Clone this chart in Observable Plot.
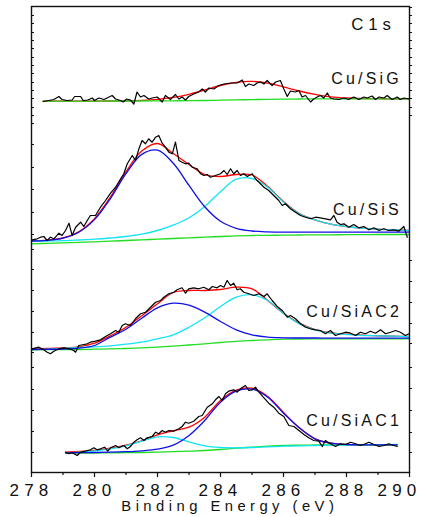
<!DOCTYPE html>
<html>
<head>
<meta charset="utf-8">
<script src="https://cdn.jsdelivr.net/npm/d3@7"></script>
<script src="https://cdn.jsdelivr.net/npm/@observablehq/plot@0.6"></script>
<style>
  html, body { margin: 0; padding: 0; background: #fff; }
  #chart svg { display: block; }
</style>
</head>
<body>
<div id="chart"></div>
<script>
// C 1s XPS spectra of four Cu/Si samples, stacked with vertical offsets.
// Intensities are in arbitrary units (already offset per spectrum).

const energyTicks = [278, 280, 282, 284, 286, 288, 290];
const energyMinorTicks = [279, 281, 283, 285, 287, 289];
const leftTicks = [457, 449, 440, 432, 424, 415, 407, 399, 390, 382, 374, 365, 357, 349,
  328, 305, 283, 260, 238, 223, 203, 182, 161, 140, 120, 105, 83, 62, 41, 20];
const rightTicks = [465, 457, 449, 440, 432, 424, 415, 407, 399, 390, 382, 374, 365, 357,
  212, 191, 170, 149, 129, 105, 84, 62, 40, 20];

const seriesNames = ["Cu/SiG", "Cu/SiS", "Cu/SiAC2", "Cu/SiAC1"];
const seriesLabelLevel = [389, 258, 156, 47];
const coreLevel = "C1s";
const coreLevelLevel = 443;
const xTitle = "Binding Energy (eV)";

// measured counts [binding energy, intensity]
const sigRaw = [[278.37,371],[278.55,372],[278.71,373],[278.87,376],[278.97,373],[279.13,372],[279.29,372.5],[279.37,376],[279.56,376],[279.64,372],[279.79,372.5],[279.93,374.5],[280.00,372],[280.14,374.5],[280.30,373],[280.40,374.5],[280.56,377],[280.67,373.5],[280.83,372],[280.91,370.5],[281.02,373.5],[281.14,372.5],[281.25,368.5],[281.35,380.5],[281.46,375.5],[281.57,377],[281.72,373.5],[281.83,374.5],[281.99,375.5],[282.15,370.5],[282.25,377],[282.41,373],[282.57,378],[282.68,373.5],[282.78,375.5],[282.89,372.5],[282.99,376],[283.15,378.5],[283.31,380.5],[283.42,383.5],[283.52,380.5],[283.63,384.5],[283.79,383.5],[283.95,387],[284.11,388.5],[284.32,389.5],[284.53,389.5],[284.69,392.5],[284.79,386],[284.90,388.5],[285.06,387],[285.16,389.5],[285.27,390.5],[285.38,388.5],[285.48,392],[285.64,387],[285.75,390.5],[285.90,392],[286.01,383.5],[286.12,376],[286.22,381.5],[286.38,380.5],[286.49,382],[286.59,375.5],[286.70,377],[286.86,370.5],[286.96,373.5],[287.07,375.5],[287.17,377],[287.28,374.5],[287.39,379.5],[287.49,374.5],[287.60,373.5],[287.76,373],[287.92,374.5],[288.07,373],[288.23,375.5],[288.39,373],[288.55,375.5],[288.66,374.5],[288.81,376.5],[288.92,373],[289.03,375.5],[289.19,374.5],[289.29,377],[289.45,373],[289.61,375.5],[289.71,373],[289.82,374.5],[290.00,373.5]];

const sisRaw = [[278.02,232.7],[278.18,233.7],[278.29,235.3],[278.39,236],[278.50,232],[278.60,235.3],[278.71,233.7],[278.87,239.3],[278.97,237],[279.08,242],[279.19,249.3],[279.29,237],[279.40,245.3],[279.56,250.3],[279.66,246],[279.77,252],[279.87,257],[280.03,257],[280.19,265.3],[280.35,272],[280.51,279.3],[280.67,285.3],[280.83,293.7],[280.93,298.7],[281.04,308.7],[281.20,317],[281.30,312],[281.41,323.7],[281.51,332],[281.62,328.7],[281.72,333.7],[281.83,330.3],[281.94,335.3],[282.04,337],[282.15,329.3],[282.25,325.3],[282.36,320.3],[282.47,318.7],[282.57,330.3],[282.68,312],[282.78,310.3],[282.89,308.7],[282.99,309.3],[283.10,305.3],[283.26,303.7],[283.37,298.7],[283.47,297],[283.58,298],[283.68,295.3],[283.84,297],[284.00,298.7],[284.11,302],[284.21,298],[284.32,303.7],[284.42,298.7],[284.53,302],[284.63,297],[284.74,298.7],[284.85,296],[285.01,298.7],[285.11,293.7],[285.22,290.3],[285.38,285.3],[285.53,282],[285.69,277],[285.85,272],[285.96,267],[286.06,268.7],[286.22,263.7],[286.38,260.3],[286.54,257],[286.70,255.3],[286.86,253.7],[287.02,255.3],[287.17,254.7],[287.33,253.7],[287.49,252.7],[287.60,257],[287.70,250.3],[287.81,248],[287.92,248.7],[288.07,245.3],[288.23,248],[288.39,244.7],[288.55,246],[288.71,242.7],[288.87,244.7],[289.03,242],[289.19,243.7],[289.34,242],[289.50,242.7],[289.66,241.3],[289.82,246],[289.93,235.3]];

const ac2Raw = [[278.02,123.7],[278.23,125.3],[278.34,123.7],[278.50,120.3],[278.60,118.7],[278.71,121.3],[278.87,123.7],[279.03,124.7],[279.19,123.7],[279.34,122],[279.40,120.3],[279.50,127],[279.66,128],[279.77,128.7],[279.87,130.3],[280.03,131.3],[280.19,132.7],[280.35,136],[280.51,138.7],[280.67,142],[280.77,140.3],[280.88,147],[280.98,148.7],[281.14,147],[281.30,153.7],[281.46,158.7],[281.62,160.3],[281.78,165.3],[281.94,170.3],[282.10,172],[282.20,175.3],[282.36,178.7],[282.52,180.3],[282.62,182.7],[282.78,184.7],[282.89,179.3],[282.99,183.7],[283.15,184.7],[283.31,183.7],[283.47,185.3],[283.63,182.7],[283.74,186],[283.89,184.7],[284.00,187],[284.11,185.3],[284.21,192],[284.32,187],[284.42,189.3],[284.53,182.7],[284.63,183.7],[284.74,180.3],[284.90,178.7],[285.06,177],[285.22,178.7],[285.38,176],[285.48,178.7],[285.64,172],[285.80,166],[285.96,162],[286.12,155.3],[286.22,157],[286.38,153.7],[286.54,148.7],[286.70,145.3],[286.86,143.7],[287.02,142.7],[287.17,142],[287.33,138.7],[287.49,142],[287.65,137],[287.81,138.7],[287.97,140.3],[288.13,139.3],[288.29,137],[288.44,140.3],[288.60,138.7],[288.76,141.3],[288.92,139.3],[289.08,142.7],[289.24,138.7],[289.40,140.3],[289.56,142],[289.71,140.3],[289.87,137],[289.98,138.7]];

const ac1Raw = [[279.08,20.3],[279.19,18.7],[279.29,19.7],[279.45,17],[279.56,20.3],[279.71,21.3],[279.87,22.7],[279.98,24.7],[280.08,22.7],[280.19,23.7],[280.32,25.3],[280.42,21.3],[280.51,24.7],[280.67,27],[280.77,24.7],[280.93,27],[281.04,23.7],[281.14,26],[281.25,30.3],[281.35,32.7],[281.46,34.7],[281.57,32],[281.67,34.7],[281.83,36],[281.94,40.3],[282.04,38.7],[282.15,42],[282.25,40.3],[282.36,42],[282.52,41.3],[282.68,43.7],[282.78,46],[282.89,50.3],[282.99,49.3],[283.15,51.3],[283.31,56],[283.42,57],[283.58,65.3],[283.74,68.7],[283.84,72.7],[283.95,76],[284.05,72],[284.16,78.7],[284.26,81.3],[284.42,82.7],[284.53,80.3],[284.63,83.7],[284.79,87],[284.90,82],[285.01,82.7],[285.11,85.3],[285.22,80.3],[285.38,74.7],[285.53,69.3],[285.69,65.3],[285.85,59.3],[286.01,56],[286.17,47],[286.33,46],[286.49,42],[286.65,38],[286.80,34.7],[286.96,32],[287.12,31.3],[287.23,26],[287.33,32],[287.49,28.7],[287.65,26],[287.81,28.7],[287.97,28],[288.13,30.3],[288.29,28.7],[288.44,27],[288.60,28.7],[288.71,30.3],[288.87,28],[289.03,26],[289.19,27],[289.34,28.7],[289.50,27],[289.61,26]];

// fitted curves, sampled on an energy grid
const sigGrid = [278.37,278.5,279,279.5,280,280.5,281,281.5,282,282.5,283,283.5,284,284.5,285,285.5,286,286.5,287,287.5,288,288.5,289,289.5,290];
const sigBackground = [371.3,371.3,371.4,371.4,371.4,371.5,371.5,371.5,371.6,371.7,371.8,372,372.3,372.6,372.9,373.2,373.4,373.5,373.6,373.6,373.6,373.7,373.7,373.7,373.7];
const sigEnvelope = [371.3,371.3,371.4,371.4,371.4,371.5,371.7,372.1,373.1,375.1,378.2,382.5,387,390.2,391.1,389.3,385.6,381.5,378.1,375.7,374.5,373.9,373.8,373.7,373.7];

const fullGrid = [278,278.5,279,279.5,280,280.5,281,281.5,282,282.5,283,283.5,284,284.5,285,285.5,286,286.5,287,287.5,288,288.5,289,289.5,290];
const sisBackground = [228.7,229.2,229.7,230.2,230.7,231.3,232,232.7,233.3,234,234.7,235.3,236,236.7,237,237.2,237.3,237.5,237.7,237.7,237.8,237.8,238,238,238];
const sisPeakLow = [231.5,232.1,234.4,240.3,252.9,273.7,298.8,318.1,322.3,309.2,287.1,265.7,251.2,244.2,241.5,240.6,240.3,240.3,240.3,240.3,240.3,240.3,240.3,240.3,240.3];
const sisPeakHigh = [231.3,231.5,231.8,232.5,233.3,234.5,236,238.3,242,247.3,254.7,266,280.7,293.3,294,285.3,270.3,258.7,252.7,248.3,246,244.3,243.3,242.7,242];
const sisEnvelope = [231.5,232.3,234.5,240.8,253.9,275.2,300.8,321.4,329,319,308,298,296,298,297.5,286,271,259,252.7,248.3,246,244.3,243.3,242.7,242];

const ac2Background = [122.7,122.8,122.9,123,123.3,123.6,124,124.6,125.3,126.3,127.5,128.7,130,131.2,132,132.7,133.3,133.5,133.6,133.7,133.7,133.7,133.7,133.7,133.7];
const ac2PeakLow = [123,123.2,123.5,124.3,127,135.3,143.3,154.3,164.7,169.3,167.3,160.3,151,142.7,137.7,135.3,134.7,134.5,134.5,134.4,134.4,134.3,134.3,134.3,134.3];
const ac2PeakHigh = [123,123.3,124,125,125.7,126.7,128.3,130.3,133.7,137.7,145.3,154.7,166,175.3,177.7,172,159,148.7,142.7,139.3,138,137,136.7,136.3,136];
const ac2Envelope = [123.7,124,124.5,125.7,129.3,136.7,145.3,156.7,168.7,180,182,182,183,185.3,183.7,172,159.3,149.3,143,139.7,138.3,137.3,136.7,136.3,136];

const ac1Grid = [279.08,279.5,280,280.5,281,281.5,282,282.5,283,283.5,284,284.5,285,285.5,286,286.5,287,287.5,288,288.5,289,289.61];
const ac1Background = [19.3,19.4,19.5,19.7,19.8,20,20.3,20.8,21.3,22,23,24.3,25.3,26.3,27,27.3,27.5,27.7,27.7,27.7,27.7,27.7];
const ac1PeakMain = [19.7,19.8,20,20.3,20.8,21.7,23.3,27.3,37,52,70.3,81.3,83.3,75.3,59.3,44.7,33.7,29.3,28,27.7,27.7,27.7];
const ac1PeakLow = [19.7,20.3,21.7,23.7,26.7,31.3,35.7,35,30.7,26.7,25,24.7,25,25.7,26.3,26.7,27,27.3,27.5,27.7,27.8,28];
const ac1Envelope = [20.3,21,22.2,24.3,27.3,31.7,37.7,41.7,45.3,55.3,72,82.3,84.3,76,60,44.7,33.7,29.3,28,27.7,27.7,27.7];

// --- tables for the marks ---
const rawRows = [sigRaw, sisRaw, ac2Raw, ac1Raw].flatMap((arr, k) =>
  arr.map(([E, v]) => ({E, v, sample: seriesNames[k]})));
const curve = (grid, vals, sample) => grid.map((E, i) => ({E, v: vals[i], sample}));

const backgroundRows = [
  ...curve(sigGrid, sigBackground, "Cu/SiG"),
  ...curve(fullGrid, sisBackground, "Cu/SiS"),
  ...curve(fullGrid, ac2Background, "Cu/SiAC2"),
  ...curve(ac1Grid, ac1Background, "Cu/SiAC1")
];
const envelopeRows = [
  ...curve(sigGrid, sigEnvelope, "Cu/SiG"),
  ...curve(fullGrid, sisEnvelope, "Cu/SiS"),
  ...curve(fullGrid, ac2Envelope, "Cu/SiAC2"),
  ...curve(ac1Grid, ac1Envelope, "Cu/SiAC1")
];
// blue components
const blueRows = [
  ...curve(fullGrid, sisPeakLow, "Cu/SiS"),
  ...curve(fullGrid, ac2PeakLow, "Cu/SiAC2"),
  ...curve(ac1Grid, ac1PeakMain, "Cu/SiAC1")
];
// cyan components
const cyanRows = [
  ...curve(fullGrid, sisPeakHigh, "Cu/SiS"),
  ...curve(fullGrid, ac2PeakHigh, "Cu/SiAC2"),
  ...curve(ac1Grid, ac1PeakLow, "Cu/SiAC1")
];

const fitLine = (rows, stroke) => Plot.line(rows, {
  x: "E", y: "v", z: "sample", stroke, strokeWidth: 1.3, curve: "catmull-rom"
});

const chart = Plot.plot({
  width: 427,
  height: 517,
  marginLeft: 31,
  marginRight: 18,
  marginTop: 6,
  marginBottom: 45,
  style: {fontFamily: "'Liberation Sans', Arial, sans-serif", background: "#fff", color: "#111"},
  x: {domain: [278, 290], axis: null},
  y: {domain: [0, 466], axis: null},
  marks: [
    fitLine(envelopeRows, "#ff0000"),
    fitLine(backgroundRows, "#22dd22"),
    fitLine(cyanRows, "#11e4f4"),
    fitLine(blueRows, "#1010e8"),
    Plot.line(rawRows, {x: "E", y: "v", z: "sample", stroke: "#000", strokeWidth: 1.2}),
    Plot.frame({stroke: "#111", strokeWidth: 1.4}),
    Plot.tickY(leftTicks, {y: d => d, insetRight: 375, stroke: "#111", strokeWidth: 1}),
    Plot.tickY(rightTicks, {y: d => d, insetLeft: 378, insetRight: -3, stroke: "#111", strokeWidth: 1}),
    Plot.axisX(energyTicks, {tickSize: 5, tickPadding: 6, fontSize: 17, tickFormat: d => String(d), label: null, strokeWidth: 1.2}),
    Plot.axisX(energyMinorTicks, {tickSize: 3, tickFormat: () => "", label: null, strokeWidth: 1.2}),
    Plot.text(seriesNames, {
      y: (d, i) => seriesLabelLevel[i], text: d => d, frameAnchor: "right",
      textAnchor: "end", lineAnchor: "bottom", dx: -7.5, fontSize: 16, fill: "#111"
    }),
    Plot.text([coreLevel], {
      y: () => coreLevelLevel, text: d => d, frameAnchor: "right",
      textAnchor: "end", lineAnchor: "bottom", dx: -13.6, fontSize: 16.8, fill: "#111"
    }),
    Plot.text([xTitle], {
      text: d => d, frameAnchor: "bottom", lineAnchor: "bottom",
      dy: 38, dx: 9.3, fontSize: 14.8, fill: "#111"
    })
  ]
});

// wide character spacing of the original typesetting
const svg = d3.select(chart);
svg.selectAll('g[aria-label="x-axis tick label"] text')
  .attr("letter-spacing", "5.2px")
  .attr("dx", function () { return this.textContent === "290" ? -10 : 0; });
svg.selectAll("text").each(function () {
  const t = this.textContent;
  if (seriesNames.includes(t)) d3.select(this).attr("letter-spacing", "3.2px");
  else if (t === coreLevel) d3.select(this).attr("letter-spacing", "4.9px");
  else if (t === xTitle) d3.select(this).attr("letter-spacing", "4.45px");
});

document.getElementById("chart").appendChild(chart);
</script>
</body>
</html>
